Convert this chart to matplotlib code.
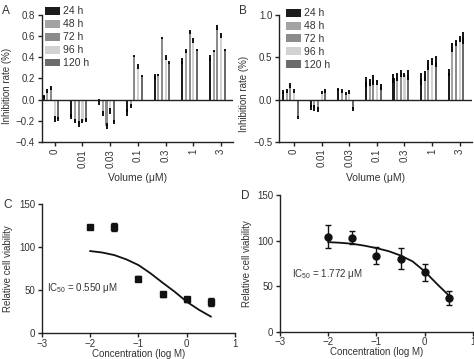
import matplotlib
matplotlib.use("Agg")
import matplotlib.pyplot as plt
from matplotlib.patches import Patch
import numpy as np

plt.rcParams["font.family"] = ["Liberation Sans", "DejaVu Sans"]
plt.rcParams["mathtext.default"] = "regular"

# ---- data -------------------------------------------------------------
volumes = ["0", "0.01", "0.03", "0.1", "0.3", "1", "3"]
times = ["24 h", "48 h", "72 h", "96 h", "120 h"]
time_colors = ["#1c1c1c", "#a3a3a3", "#8c8c8c", "#d2d2d2", "#6b6b6b"]

# panel A: inhibition rate, rows = volume, cols = time
inhib_a = [
    [0.03, 0.08, 0.11, -0.18, -0.18],
    [-0.16, -0.20, -0.23, -0.20, -0.19],
    [-0.02, -0.13, -0.25, -0.11, -0.21],
    [-0.12, -0.06, 0.41, 0.315, 0.22],
    [0.22, 0.23, 0.58, 0.395, 0.35],
    [0.365, 0.46, 0.64, 0.555, 0.47],
    [0.39, 0.46, 0.68, 0.605, 0.47],
]
err_a = [
    [0.01, 0.02, 0.02, 0.03, 0.02],
    [0.02, 0.02, 0.03, 0.02, 0.02],
    [0.03, 0.02, 0.03, 0.03, 0.02],
    [0.03, 0.02, 0.01, 0.025, 0.01],
    [0.025, 0.01, 0.01, 0.025, 0.01],
    [0.025, 0.02, 0.02, 0.025, 0.01],
    [0.03, 0.01, 0.02, 0.025, 0.01],
]

# panel B
inhib_b = [
    [0.09, 0.10, 0.17, 0.10, -0.21],
    [-0.09, -0.10, -0.12, 0.08, 0.10],
    [0.12, 0.10, 0.07, 0.09, -0.11],
    [0.21, 0.20, 0.23, 0.20, 0.15],
    [0.25, 0.27, 0.31, 0.29, 0.29],
    [0.245, 0.28, 0.41, 0.45, 0.45],
    [0.32, 0.62, 0.67, 0.72, 0.73],
]
err_b = [
    [0.02, 0.02, 0.03, 0.02, 0.02],
    [0.03, 0.03, 0.03, 0.02, 0.02],
    [0.02, 0.02, 0.02, 0.02, 0.02],
    [0.06, 0.04, 0.06, 0.03, 0.04],
    [0.055, 0.045, 0.045, 0.025, 0.06],
    [0.07, 0.06, 0.06, 0.045, 0.07],
    [0.045, 0.055, 0.04, 0.035, 0.07],
]

# panels C and D: viability vs log concentration
log_conc = [-2, -1.5, -1, -0.5, 0, 0.5]
viab_c = [123.5, 123.5, 63.5, 45.5, 39.5, 36.5]
viab_c_err = [2.5, 4.5, 3.0, 3.0, 3.0, 4.5]
viab_d = [104.5, 103.5, 83.5, 80.0, 65.5, 37.0]
viab_d_err = [13.0, 7.5, 9.5, 11.5, 9.5, 7.5]

# fitted curves
fit_x = [-2, -1.75, -1.5, -1.25, -1, -0.75, -0.5, -0.25, 0, 0.25, 0.5]
fit_c = [95.7, 94.0, 91.0, 86.0, 79.4, 69.8, 58.9, 48.4, 36.8, 27.5, 19.5]
fit_d = [98.5, 97.8, 96.7, 94.6, 91.9, 88.6, 83.8, 77.3, 66.3, 52.8, 39.9]

TXT = "#333333"
FS = 7


def style_axes(ax):
    for s in ["top", "right"]:
        ax.spines[s].set_visible(False)
    for s in ["left", "bottom"]:
        ax.spines[s].set_linewidth(1.0)
        ax.spines[s].set_color("#222222")
    ax.tick_params(direction="out", length=3, width=1.0, labelsize=FS,
                   labelcolor=TXT, color="#222222", pad=2)


def bar_panel(ax, vals, errs, ylim, yticks, yticklabels, xlim, leg_anchor, ylab_y):
    vals = np.array(vals)
    errs = np.array(errs)
    step = 0.133
    for k in range(len(times)):
        xs = np.arange(len(volumes)) + (k - 3) * step
        ax.bar(xs, vals[:, k], width=0.075, color=time_colors[k], zorder=2)
        ax.errorbar(xs, vals[:, k], yerr=errs[:, k], fmt="none", ecolor="black",
                    elinewidth=1.3, capsize=0, zorder=3)
    ax.axhline(0, color="#222222", lw=1.0, zorder=4)
    ax.set_xlim(*xlim)
    ax.set_ylim(*ylim)
    ax.set_yticks(yticks)
    ax.set_yticklabels(yticklabels)
    ax.set_xticks(range(len(volumes)))
    ax.set_xticklabels(volumes, rotation=90)
    style_axes(ax)
    ax.set_ylabel("Inhibition rate (%)", fontsize=FS, color=TXT)
    ax.yaxis.set_label_coords(-0.155, ylab_y)
    ax.set_xlabel("Volume (μM)", fontsize=7.5, color=TXT, labelpad=4)
    handles = [Patch(facecolor=c, edgecolor="none") for c in time_colors]
    ax.legend(handles, times, loc="upper left", bbox_to_anchor=leg_anchor,
              bbox_transform=fig.transFigure, frameon=False, fontsize=7.5,
              handlelength=1.45, handleheight=0.8, handletextpad=0.25,
              labelspacing=0.28, borderpad=0, borderaxespad=0, labelcolor=TXT)


def curve_panel(ax, y, yerr, fit, marker, ms, txt, txt_xy):
    ax.plot(fit_x, fit, color="#111111", lw=1.3, zorder=2)
    ax.errorbar(log_conc, y, yerr=yerr, fmt=marker, color="#111111", ms=ms,
                elinewidth=1.0, capsize=2.2, capthick=1.0, zorder=3)
    ax.set_xlim(-3, 1)
    ax.set_ylim(0, 150)
    ax.set_xticks([-3, -2, -1, 0, 1])
    ax.set_xticklabels(["\u22123", "\u22122", "\u22121", "0", "1"])
    ax.set_yticks([0, 50, 100, 150])
    style_axes(ax)
    ax.tick_params(axis="x", pad=1)
    ax.set_ylabel("Relative cell viability", fontsize=FS, color=TXT)
    ax.set_xlabel("Concentration (log M)", fontsize=FS, color=TXT, labelpad=0)
    ax.text(txt_xy[0], txt_xy[1], txt, fontsize=FS, color=TXT, va="center", ha="left")


fig = plt.figure(figsize=(4.74, 3.59), dpi=100)

ax_a = fig.add_axes([0.0886, 0.6045, 0.403, 0.354])
ax_b = fig.add_axes([0.589, 0.605, 0.407, 0.353])
ax_c = fig.add_axes([0.0886, 0.0716, 0.407, 0.359])
ax_d = fig.add_axes([0.591, 0.076, 0.4066, 0.38])

bar_panel(ax_a, inhib_a, err_a, (-0.4, 0.8), [-0.4, -0.2, 0, 0.2, 0.4, 0.6, 0.8],
          ["\u22120.4", "\u22120.2", "0.0", "0.2", "0.4", "0.6", "0.8"],
          (-0.46, 6.43), (0.095, 0.982), 0.44)
bar_panel(ax_b, inhib_b, err_b, (-0.5, 1.0), [-0.5, 0, 0.5, 1.0],
          ["\u22120.5", "0.0", "0.5", "1.0"],
          (-0.54, 6.45), (0.603, 0.977), 0.38)

curve_panel(ax_c, viab_c, viab_c_err, fit_c, "s", 4, "IC$_{50}$ = 0.550 μM", (-2.9, 53))
curve_panel(ax_d, viab_d, viab_d_err, fit_d, "o", 5, "IC$_{50}$ = 1.772 μM", (-2.75, 63))

for lab, x, y in [("A", 0.004, 0.985), ("B", 0.505, 0.985), ("C", 0.008, 0.445), ("D", 0.508, 0.47)]:
    fig.text(x, y, lab, fontsize=8.5, color=TXT, va="top", ha="left")

fig.savefig("out.png", dpi=100)
